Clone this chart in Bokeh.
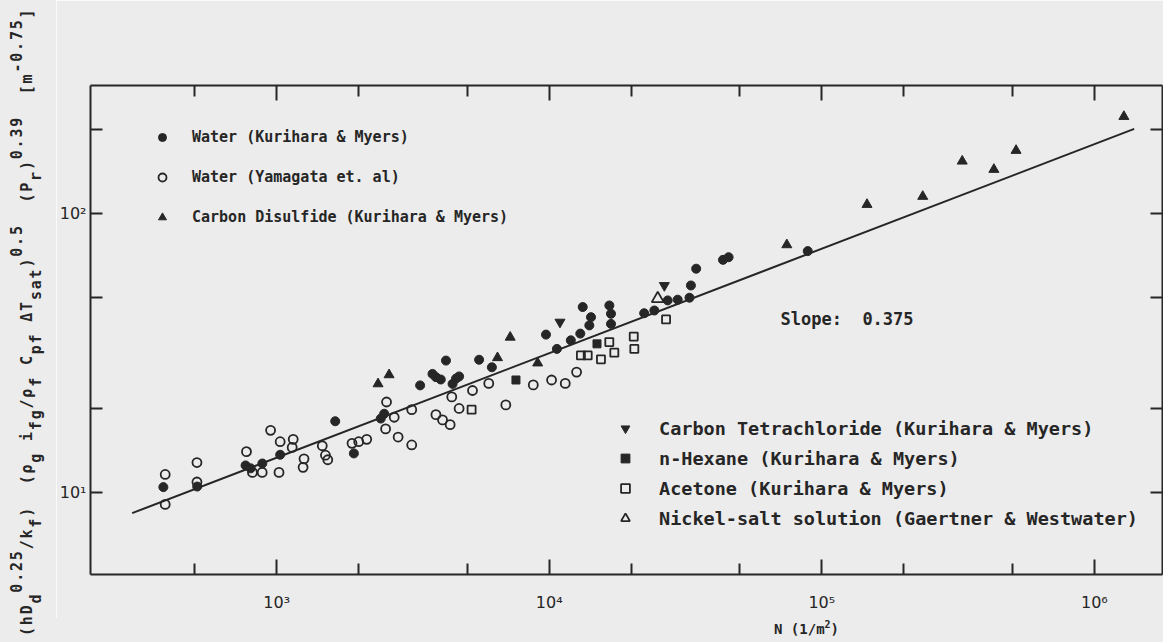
from bokeh.plotting import figure
from bokeh.models import LogAxis, FixedTicker, Range1d, Legend, LegendItem, Label, Div
from bokeh.layouts import row, column
from bokeh.embed import file_html
from bokeh.resources import INLINE

# ---------------- data ----------------
# Water (Kurihara & Myers) - filled circles
wk_N = [384, 511, 769, 803, 886, 1030, 1640, 1920, 2480, 2410, 3360, 4420, 3730, 3840,
        4000, 4180, 4550, 4670, 5530, 6160, 9730, 10670, 12000, 13000, 13270, 14030,
        14230, 16620, 16850, 16850, 22300, 24300, 27200, 29600, 32700, 33100, 34600,
        43400, 45500, 88800]
wk_Y = [10.45, 10.5, 12.5, 12.2, 12.7, 13.65, 18.0, 13.8, 19.15, 18.4, 24.2, 24.5, 26.6, 25.9,
        25.4, 29.7, 25.6, 26.05, 29.9, 28.1, 36.8, 32.7, 35.1, 37.1, 46.2, 39.7,
        42.5, 46.8, 43.7, 40.2, 43.9, 44.9, 48.8, 49.1, 49.9, 55.2, 63.4,
        68.2, 69.7, 73.3]
# Water (Yamagata et. al) - open circles
wy_N = [390, 390, 510, 510, 775, 950, 1030, 1150, 1140, 815, 885, 1020, 1260, 1250,
        1470, 1510, 1540, 1890, 2000, 2140, 2530, 2510, 2790, 3130, 3130, 3840, 4060,
        4330, 4390, 4670, 5230, 6000, 2700, 6930, 8740, 10200, 11450, 12600]
wy_Y = [11.6, 9.06, 12.8, 10.9, 14.0, 16.7, 15.2, 15.5, 14.5, 11.8, 11.8, 11.8, 13.2, 12.3,
        14.7, 13.6, 13.1, 15.0, 15.2, 15.5, 21.1, 16.9, 15.8, 14.8, 19.8, 19.0, 18.2,
        17.5, 22.0, 20.0, 23.2, 24.6, 18.6, 20.6, 24.3, 25.3, 24.6, 27.0]
# Carbon Disulfide - filled triangles
cs_N = [2355, 2585, 6460, 7190, 9070, 74400, 146500, 234600, 327500, 427900, 516000, 1283000]
cs_Y = [24.5, 26.4, 30.4, 36.0, 29.1, 77.2, 107.7, 115.1, 154.0, 143.8, 168.2, 222.6]
# Carbon Tetrachloride - filled inverted triangles
ct_N = [10950, 26440]
ct_Y = [40.8, 55.2]
# n-Hexane - filled squares
hx_N = [7550, 14970]
hx_Y = [25.3, 34.1]
# Acetone - open squares
ac_N = [5190, 13070, 13840, 15480, 16610, 17330, 20420, 20520, 26830]
ac_Y = [19.8, 31.0, 31.0, 30.0, 34.6, 31.7, 36.2, 32.7, 41.7]
# Nickel-salt solution - open triangles
ni_N = [25010]
ni_Y = [49.5]
# correlation line, slope 0.375
line_N = [295, 1.40e6]
line_Y = [8.43, 201.0]

x_major = [1e3, 1e4, 1e5, 1e6]
x_minor = [5e2, 2e3, 5e3, 2e4, 5e4, 2e5, 5e5]
x_labels = ["10³", "10⁴", "10⁵", "10⁶"]
y_major = [10.0, 100.0]
y_minor = [20.0, 50.0, 200.0]
y_labels = ["10¹", "10²"]

legend_top = ["Water (Kurihara & Myers)", "Water (Yamagata et. al)",
              "Carbon Disulfide (Kurihara & Myers)"]
legend_bot = ["Carbon Tetrachloride (Kurihara & Myers)", "n-Hexane (Kurihara & Myers)",
              "Acetone (Kurihara & Myers)", "Nickel-salt solution (Gaertner & Westwater)"]
slope_text = "Slope:\u00a0 0.375"
x_title_html = 'N (1/m<sup style="font-size:10px;line-height:0;">2</sup>)'
# y title pieces: (text, kind) kind m=main, b=subscript, p=superscript
y_title = [("(hD", "m"), ("d", "b"), ("0.25", "p"), ("/k", "m"), ("f", "b"), (")&nbsp;&nbsp;(ρ", "m"),
           ("g", "b"), ("&nbsp;i", "m"), ("fg", "b"), ("/ρ", "m"), ("f", "b"),
           ("&nbsp;C", "m"), ("pf", "b"), ("&nbsp;ΔT", "m"), ("sat", "b"), (")", "m"),
           ("0.5", "p"), ("&nbsp;&nbsp;(P", "m"), ("r", "b"), (")", "m"), ("0.39", "p"),
           ("&nbsp;&nbsp;[m", "m"), ("-0.75", "p"), ("]", "m")]

# ---------------- styling ----------------
BG = "#ececec"
INK = "#262626"
MONO = "DejaVu Sans Mono"
SANS = "DejaVu Sans"

W_LAB = 56
W_MAIN = 1163 - W_LAB
H_MAIN = 618
H_XT = 642 - H_MAIN

p = figure(width=W_MAIN, height=H_MAIN, x_axis_type="log", y_axis_type="log",
           x_range=Range1d(207.5, 1.778e6), y_range=Range1d(5.08, 287.6),
           output_backend="svg", toolbar_location=None,
           min_border_left=34, min_border_right=1, min_border_top=85, min_border_bottom=44,
           background_fill_color=BG, border_fill_color=BG, outline_line_color=None)
p.grid.visible = False

xt = FixedTicker(ticks=x_major, minor_ticks=x_minor)
yt = FixedTicker(ticks=y_major, minor_ticks=y_minor)


def style_axis(ax, maj_in, min_in):
    ax.axis_line_color = INK
    ax.axis_line_width = 2
    ax.major_tick_line_color = INK
    ax.major_tick_line_width = 2
    ax.minor_tick_line_color = INK
    ax.minor_tick_line_width = 2
    ax.major_tick_in = maj_in
    ax.major_tick_out = 0
    ax.minor_tick_in = min_in
    ax.minor_tick_out = 0


bx = p.xaxis[0]
bx.ticker = xt
bx.major_label_overrides = {t: s for t, s in zip(x_major, x_labels)}
bx.major_label_text_font = SANS
bx.major_label_text_font_size = "16px"
bx.major_label_text_color = INK
bx.major_label_standoff = 18
style_axis(bx, 15, 11)

ly = p.yaxis[0]
ly.ticker = yt
ly.major_label_overrides = {t: s for t, s in zip(y_major, y_labels)}
ly.major_label_text_font = SANS
ly.major_label_text_font_size = "16px"
ly.major_label_text_color = INK
ly.major_label_standoff = 4
style_axis(ly, 12, 12)

tx = LogAxis(ticker=xt, major_label_text_font_size="1px", major_label_text_alpha=0,
             major_label_standoff=0)
style_axis(tx, 15, 11)
p.add_layout(tx, "above")

ry = LogAxis(ticker=yt, major_label_text_font_size="1px", major_label_text_alpha=0,
             major_label_standoff=-12)
style_axis(ry, 12, 12)
p.add_layout(ry, "right")

p.line(line_N, line_Y, line_color=INK, line_width=2)

r_wk = p.scatter(wk_N, wk_Y, marker="circle", size=9, fill_color=INK, line_color=INK)
r_wy = p.scatter(wy_N, wy_Y, marker="circle", size=9, fill_color=None, line_color=INK, line_width=1.8)
r_cs = p.scatter(cs_N, cs_Y, marker="triangle", size=10, fill_color=INK, line_color=INK)
r_ct = p.scatter(ct_N, ct_Y, marker="inverted_triangle", size=10, fill_color=INK, line_color=INK)
r_hx = p.scatter(hx_N, hx_Y, marker="square", size=8, fill_color=INK, line_color=INK)
r_ac = p.scatter(ac_N, ac_Y, marker="square", size=8, fill_color=None, line_color=INK, line_width=1.8)
r_ni = p.scatter(ni_N, ni_Y, marker="triangle", size=12, fill_color=None, line_color=INK, line_width=1.8)

leg_common = dict(orientation="vertical", padding=0, margin=0, border_line_color=None,
                  background_fill_alpha=0, label_text_font=MONO, label_text_font_style="bold",
                  label_text_color=INK)

leg1 = Legend(items=[LegendItem(label=t, renderers=[r]) for t, r in zip(legend_top, [r_wk, r_wy, r_cs])],
              location=(62, 347), glyph_width=20, glyph_height=20, label_height=20,
              spacing=20, label_standoff=20, label_text_font_size="15px", **leg_common)
p.add_layout(leg1)

leg2 = Legend(items=[LegendItem(label=t, renderers=[r]) for t, r in zip(legend_bot, [r_ct, r_hx, r_ac, r_ni])],
              location=(524, 45), glyph_width=22, glyph_height=22, label_height=22,
              spacing=8, label_standoff=23, label_text_font_size="18.5px", **leg_common)
p.add_layout(leg2)

p.add_layout(Label(x=690, y=256, x_units="screen", y_units="screen", text=slope_text,
                   text_font=MONO, text_font_size="17px", text_font_style="bold",
                   text_baseline="middle", text_color=INK))

# ---------------- y title (rotated HTML text in a side panel) ----------------
shift = {"m": "0px", "b": "9px", "p": "-10px"}
pieces = "".join(
    t if k == "m" else f'<span style="position:relative;top:{shift[k]}">{t}</span>'
    for t, k in y_title)
font_css = (f"font-family:'{MONO}';font-weight:bold;color:{INK};white-space:nowrap;")
y_html = (f'<div style="position:relative;width:{W_LAB}px;height:642px;background:{BG};'
          'overflow:hidden;">'
          f'<div style="position:absolute;left:20px;top:636px;transform-origin:0 0;'
          f'transform:rotate(-90deg);font-size:15px;line-height:15px;letter-spacing:1.8px;'
          f'{font_css}">{pieces}</div></div>')
ydiv = Div(text=y_html, width=W_LAB, height=642, margin=0,
           styles={"background-color": BG, "overflow": "hidden"})

x_html = (f'<div style="position:relative;width:{W_MAIN}px;height:{H_XT}px;background:{BG};'
          'overflow:hidden;">'
          f'<div style="position:absolute;left:718px;top:3px;font-size:14px;line-height:16px;'
          f'{font_css}">{x_title_html}</div></div>')
xdiv = Div(text=x_html, width=W_MAIN, height=H_XT, margin=0,
           styles={"background-color": BG, "overflow": "hidden"})

layout = row(ydiv, column(p, xdiv, spacing=0), spacing=0)
open("out.html", "w").write(file_html(layout, INLINE))
